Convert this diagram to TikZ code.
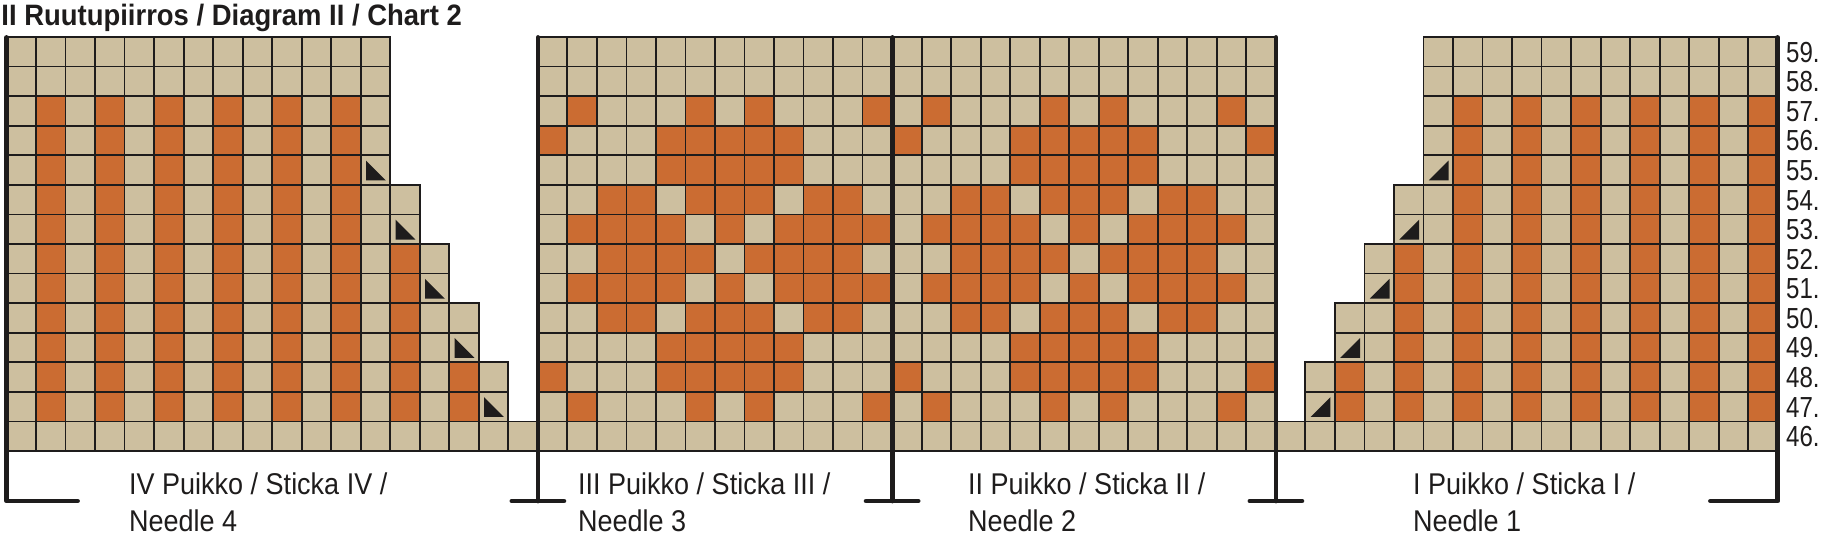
\documentclass[tikz,border=0pt]{standalone}
\usepackage{fontspec}
\setmainfont{Liberation Sans}
\newfontfamily\lblfont{Liberation Sans}[FakeStretch=0.9]
\newfontfamily\numfont{Liberation Sans}[FakeStretch=0.83]
\newfontfamily\ttlfont{Liberation Sans}[FakeStretch=0.93]
\definecolor{beige}{RGB}{205,191,159}
\definecolor{rust}{RGB}{203,108,50}
\definecolor{ink}{RGB}{30,28,28}
\tikzset{
  gridline/.style={draw=ink, line width=1.8pt},
  needleline/.style={draw=ink, line width=4.8pt, line cap=round, line join=round},
  tri/.style={fill=ink},
  lbl/.style={font=\lblfont\fontsize{30pt}{36pt}\selectfont, text=ink, inner sep=0pt, anchor=base west},
  rownum/.style={font=\numfont\fontsize{29pt}{34pt}\selectfont, text=ink, inner sep=0pt, anchor=base west},
  ttl/.style={font=\ttlfont\bfseries\fontsize{29.5pt}{34pt}\selectfont, text=ink, inner sep=0pt, anchor=base west}
}
\newcommand\colstrip[2]{\fill[beige] (#1-1,#2) rectangle (#1,14);}
\newcommand\colgrid[2]{\foreach \jj in {#2,...,13} {\draw[gridline] (#1-1,\jj) rectangle (#1,\jj+1);}}
\begin{document}
\begin{tikzpicture}[x=1pt,y=-1pt]
\useasboundingbox (0,0) rectangle (1825,538);
\begin{scope}[shift={(6.5,37)}, x=29.52pt, y=-29.57pt]
  % beige cells
  \foreach \i in {1,...,13} {\colstrip{\i}{0}}
  \foreach \i in {19,...,43} {\colstrip{\i}{0}}
  \foreach \i in {49,...,60} {\colstrip{\i}{0}}
  \foreach \i/\t in {14/5,15/7,16/9,17/11,18/13,44/13,45/11,46/9,47/7,48/5} {\colstrip{\i}{\t}}
  % needle 4 stripes
  \foreach \i in {2,4,...,12} {\fill[rust] (\i-1,2) rectangle (\i,13);}
  \fill[rust] (13,7) rectangle (14,13);
  \fill[rust] (15,11) rectangle (16,13);
  % needle 1 stripes
  \foreach \i in {50,52,...,60} {\fill[rust] (\i-1,2) rectangle (\i,13);}
  \fill[rust] (47,7) rectangle (48,13);
  \fill[rust] (45,11) rectangle (46,13);
  % motif on needles 3 and 2
  \foreach \j/\ms in {2/{2,6,8,12},12/{2,6,8,12},
                      3/{1,5,6,7,8,9},11/{1,5,6,7,8,9},
                      4/{5,6,7,8,9},10/{5,6,7,8,9},
                      5/{3,4,6,7,8,10,11},9/{3,4,6,7,8,10,11},
                      6/{2,3,4,5,7,9,10,11,12},8/{2,3,4,5,7,9,10,11,12},
                      7/{3,4,5,6,8,9,10,11}} {
    \foreach \m in \ms {
      \fill[rust] (17+\m,\j) rectangle (18+\m,\j+1);
      \fill[rust] (29+\m,\j) rectangle (30+\m,\j+1);
      \ifnum\m=1 \fill[rust] (42,\j) rectangle (43,\j+1); \fi
    }
  }
  % grid lines
  \foreach \i in {1,...,13} {\colgrid{\i}{0}}
  \foreach \i in {19,...,43} {\colgrid{\i}{0}}
  \foreach \i in {49,...,60} {\colgrid{\i}{0}}
  \foreach \i/\t in {14/5,15/7,16/9,17/11,18/13,44/13,45/11,46/9,47/7,48/5} {\colgrid{\i}{\t}}
  % decrease triangles
  \foreach \i/\j in {13/4,14/6,15/8,16/10,17/12} {
    \fill[tri] (\i-1+0.18,\j+0.18) -- (\i-1+0.18,\j+0.85) -- (\i-1+0.85,\j+0.85) -- cycle;
  }
  \foreach \i/\j in {49/4,48/6,47/8,46/10,45/12} {
    \fill[tri] (\i-1+0.85,\j+0.18) -- (\i-1+0.85,\j+0.85) -- (\i-1+0.18,\j+0.85) -- cycle;
  }
\end{scope}
% needle brackets
\draw[needleline] (77.5,501) -- (6.5,501) -- (6.5,37.5);
\draw[needleline] (537.9,37.5) -- (537.9,501);
\draw[needleline] (511.9,501) -- (563.9,501);
\draw[needleline] (892.1,37.5) -- (892.1,501);
\draw[needleline] (866.1,501) -- (918.1,501);
\draw[needleline] (1275.9,37.5) -- (1275.9,501);
\draw[needleline] (1249.9,501) -- (1301.9,501);
\draw[needleline] (1710.5,501) -- (1777.7,501) -- (1777.7,37.5);
% title
\node[ttl] (title) at (1.3,25) {II Ruutupiirros / Diagram II / Chart 2};
% row numbers
\foreach \R in {46,...,59} {
  \pgfmathsetmacro\yy{37+(59-\R+0.5)*29.57+10.4}
  \node[rownum] (n\R) at (1786,\yy) {\R.};
}
% needle labels
\node[lbl] (l4a) at (129,494) {IV Puikko / Sticka IV /};
\node[lbl] (l4b) at (129,531.7) {Needle 4};
\node[lbl] (l3a) at (578,494) {III Puikko / Sticka III /};
\node[lbl] (l3b) at (578,531.7) {Needle 3};
\node[lbl] (l2a) at (968,494) {II Puikko / Sticka II /};
\node[lbl] (l2b) at (968,531.7) {Needle 2};
\node[lbl] (l1a) at (1413,494) {I Puikko / Sticka I /};
\node[lbl] (l1b) at (1413,531.7) {Needle 1};
\end{tikzpicture}
\end{document}
